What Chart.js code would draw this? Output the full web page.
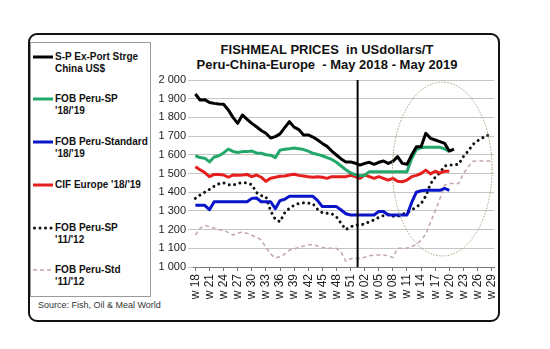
<!DOCTYPE html>
<html>
<head>
<meta charset="utf-8">
<script src="https://cdn.jsdelivr.net/npm/chart.js@4.4.1/dist/chart.umd.min.js"></script>
<style>
  html, body { margin: 0; padding: 0; background: #fff; }
  #wrap { position: relative; width: 550px; height: 349px; overflow: hidden; font-family: "Liberation Sans", Arial, sans-serif; }
  #frame { position: absolute; left: 28px; top: 33px; width: 472px; height: 289px; box-sizing: border-box; border: 2.5px solid #111; border-radius: 9px; }
  #legendBox { position: absolute; left: 30px; top: 42px; width: 121px; height: 255px; box-sizing: border-box; border: 1px solid #9a9a9a; }
  .item { position: absolute; left: 55px; font-size: 10px; font-weight: bold; line-height: 12px; color: #111; white-space: nowrap; }
  .swatch { position: absolute; left: 33px; }
  #title { position: absolute; left: 177px; width: 300px; top: 42px; text-align: center; font-size: 13px; font-weight: bold; line-height: 15px; color: #111; white-space: nowrap; }
  #source { position: absolute; left: 38px; top: 300px; font-size: 9px; color: #333; }
  canvas { position: absolute; left: 0; top: 0; }
</style>
</head>
<body>
<div id="wrap">
  <div id="frame"></div>
  <div id="legendBox"></div>
  <div id="legend"></div>
  <div id="title">FISHMEAL PRICES&nbsp; in USdollars/T<br>Peru-China-Europe&nbsp; - May 2018 - May 2019</div>
  <div id="source">Source: Fish, Oil &amp; Meal World</div>
  <canvas id="chart" width="550" height="349"></canvas>
</div>
<script>
// weekly categories, May 2018 (w 18) to July 2019 (w 29)
const weeks = [
  "w 18", "w 19", "w 20", "w 21", "w 22", "w 23", "w 24", "w 25", "w 26", "w 27",
  "w 28", "w 29", "w 30", "w 31", "w 32", "w 33", "w 34", "w 35", "w 36", "w 37",
  "w 38", "w 39", "w 40", "w 41", "w 42", "w 43", "w 44", "w 45", "w 46", "w 47",
  "w 48", "w 49", "w 50", "w 51", "w 52", "w 01", "w 02", "w 03", "w 04", "w 05",
  "w 06", "w 07", "w 08", "w 09", "w 10", "w 11", "w 12", "w 13", "w 14", "w 15",
  "w 16", "w 17", "w 18", "w 19", "w 20", "w 21", "w 22", "w 23", "w 24", "w 25",
  "w 26", "w 27", "w 28", "w 29"
];
const yearBreak = [34, 35]; // between w 52 and w 01

const chinaStorage = [1925, 1893, 1895, 1880, 1875, 1872, 1870, 1840, 1800, 1768,
  1813, 1790, 1768, 1750, 1730, 1715, 1690, 1697, 1712, 1745,
  1777, 1748, 1735, 1706, 1706, 1695, 1679, 1661, 1645, 1620,
  1599, 1578, 1562, 1562, 1555, 1545, 1554, 1560, 1549, 1560,
  1567, 1554, 1565, 1590, 1554, 1549, 1599, 1643, 1643, 1715,
  1688, 1679, 1670, 1661, 1620, 1631];
const fobSp1819 = [1595, 1585, 1582, 1562, 1588, 1595, 1610, 1630, 1618, 1612,
  1617, 1617, 1620, 1610, 1608, 1600, 1598, 1585, 1625, 1630,
  1632, 1636, 1632, 1628, 1620, 1608, 1602, 1595, 1585, 1575,
  1560, 1540, 1520, 1503, 1494, 1488, 1490, 1510, 1510, 1510,
  1510, 1510, 1510, 1510, 1510, 1510, 1580, 1628, 1638, 1640,
  1640, 1640, 1640, 1632, 1617];
const fobStd1819 = [1330, 1330, 1330, 1306, 1349, 1349, 1349, 1349, 1349, 1349,
  1349, 1349, 1367, 1369, 1349, 1349, 1349, 1312, 1355, 1362,
  1378, 1378, 1378, 1378, 1378, 1378, 1355, 1323, 1323, 1323,
  1323, 1305, 1285, 1278, 1278, 1278, 1278, 1278, 1278, 1297,
  1297, 1278, 1278, 1278, 1278, 1278, 1345, 1400, 1408, 1410,
  1410, 1410, 1410, 1420, 1410];
const cifEurope1819 = [1536, 1520, 1505, 1483, 1495, 1495, 1492, 1480, 1492, 1490,
  1492, 1495, 1483, 1492, 1480, 1458, 1475, 1480, 1485, 1487,
  1492, 1496, 1490, 1487, 1483, 1480, 1483, 1480, 1474, 1483,
  1483, 1483, 1483, 1490, 1483, 1474, 1492, 1483, 1474, 1483,
  1474, 1465, 1474, 1458, 1456, 1465, 1483, 1490, 1500, 1518,
  1498, 1512, 1502, 1512, 1512];
const fobSp1112 = [1367, 1385, 1400, 1415, 1432, 1445, 1450, 1440, 1437, 1448,
  1450, 1450, 1440, 1398, 1382, 1376, 1300, 1255, 1242, 1290,
  1314, 1330, 1340, 1343, 1342, 1338, 1308, 1290, 1287, 1285,
  1268, 1233, 1200, 1215, 1224, 1225, 1230, 1242, 1252, 1265,
  1275, 1282, 1272, 1270, 1282, 1290, 1305, 1322, 1338, 1380,
  1445, 1480, 1505, 1540, 1545, 1545, 1550, 1590, 1620, 1655,
  1675, 1690, 1704, 1708];
const fobStd1112 = [1171, 1207, 1222, 1215, 1208, 1200, 1196, 1185, 1171, 1182,
  1187, 1180, 1170, 1160, 1145, 1105, 1070, 1048, 1055, 1068,
  1090, 1097, 1105, 1112, 1118, 1121, 1112, 1105, 1100, 1100,
  1100, 1080, 1030, 1044, 1046, 1046, 1052, 1060, 1064, 1064,
  1064, 1060, 1050, 1100, 1100, 1100, 1110, 1120, 1145, 1175,
  1240, 1300, 1365, 1438, 1447, 1447, 1447, 1500, 1535, 1565,
  1567, 1567, 1567, 1567];

// the dotted oval around the 2019 run-up (category index, price)
const focusCentre = [52.5, 1524];
const focusRadius = [10.6, 465];

const font = "'Liberation Sans', Arial, sans-serif";

const series = [
  { label: ["S-P Ex-Port Strge", "China US$"], data: chinaStorage, color: "#000000", width: 3, dash: [] },
  { label: ["FOB Peru-SP", "'18/'19"], data: fobSp1819, color: "#23a86b", width: 3, dash: [] },
  { label: ["FOB Peru-Standard", "'18/'19"], data: fobStd1819, color: "#0a14c8", width: 3, dash: [] },
  { label: ["CIF Europe '18/'19"], data: cifEurope1819, color: "#e61e1e", width: 3, dash: [] },
  { label: ["FOB Peru-SP", "'11/'12"], data: fobSp1112, color: "#111111", width: 3, dash: [0.01, 5.5], cap: "round" },
  { label: ["FOB Peru-Std", "'11/'12"], data: fobStd1112, color: "#c4a6ae", width: 1.5, dash: [4, 3] },
];

// html legend, one entry per series
const legendTops = [51, 93, 136, 179, 222, 264];
const legendEl = document.getElementById("legend");
series.forEach((s, i) => {
  const top = legendTops[i];
  const svgDash = s.dash.length ? `stroke-dasharray="${s.dash.join(" ")}"` : "";
  const cap = s.cap || "butt";
  legendEl.insertAdjacentHTML("beforeend",
    `<svg class="swatch" style="top:${top + 3}px" width="20" height="6">` +
    `<line x1="${cap === "round" ? 1.5 : 0}" y1="3" x2="20" y2="3" stroke="${s.color}" stroke-width="${s.width}" stroke-linecap="${cap}" ${svgDash}/></svg>` +
    `<div class="item" style="top:${top}px">${s.label.join("<br>")}</div>`);
});

const markers = {
  id: "markers",
  afterDatasetsDraw(chart) {
    const { ctx, chartArea, scales } = chart;
    const x = scales.x, y = scales.y;
    ctx.save();
    // year boundary
    const lx = (x.getPixelForValue(yearBreak[0]) + x.getPixelForValue(yearBreak[1])) / 2;
    ctx.strokeStyle = "#000";
    ctx.lineWidth = 2;
    ctx.beginPath();
    ctx.moveTo(lx, chartArea.top);
    ctx.lineTo(lx, chartArea.bottom);
    ctx.stroke();
    // oval
    const cx = x.getPixelForValue(focusCentre[0]);
    const cy = y.getPixelForValue(focusCentre[1]);
    const rx = Math.abs(x.getPixelForValue(focusCentre[0] + focusRadius[0]) - cx);
    const ry = Math.abs(y.getPixelForValue(focusCentre[1] + focusRadius[1]) - cy);
    ctx.strokeStyle = "#a8987a";
    ctx.lineWidth = 1;
    ctx.setLineDash([1.5, 1.5]);
    ctx.beginPath();
    ctx.ellipse(cx, cy, rx, ry, 0, 0, Math.PI * 2);
    ctx.stroke();
    ctx.restore();
  },
};

function thousands(v) {
  return Math.floor(v / 1000) + " " + String(v % 1000).padStart(3, "0");
}

new Chart(document.getElementById("chart"), {
  type: "line",
  data: {
    labels: weeks,
    datasets: series.map((s) => ({
      label: s.label.join(" "),
      data: s.data,
      borderColor: s.color,
      backgroundColor: s.color,
      borderWidth: s.width,
      borderDash: s.dash,
      borderCapStyle: s.cap || "butt",
      borderJoinStyle: "round",
      pointRadius: 0,
      tension: 0,
      fill: false,
    })),
  },
  options: {
    responsive: false,
    animation: false,
    layout: { padding: { left: 150, right: 56, top: 80, bottom: 0 } },
    plugins: { legend: { display: false }, tooltip: { enabled: false } },
    scales: {
      x: {
        offset: true,
        grid: { drawOnChartArea: false, drawTicks: true, tickLength: 4, color: "#777" },
        border: { color: "#777", width: 1 },
        ticks: {
          autoSkip: false,
          maxRotation: 90,
          minRotation: 90,
          padding: 3,
          color: "#222",
          font: { family: font, size: 12 },
          callback: (v, i) => (i % 3 === 0 ? weeks[i] : null),
        },
        afterFit: (s) => { s.height = 82; },
      },
      y: {
        min: 1000,
        max: 2000,
        ticks: { stepSize: 100, color: "#222", padding: 2, font: { family: font, size: 11 }, callback: thousands },
        grid: { color: "#c4c4c4", tickLength: 5 },
        border: { display: false },
        afterFit: (s) => { s.width = 43; },
      },
    },
  },
  plugins: [markers],
});
</script>
</body>
</html>
